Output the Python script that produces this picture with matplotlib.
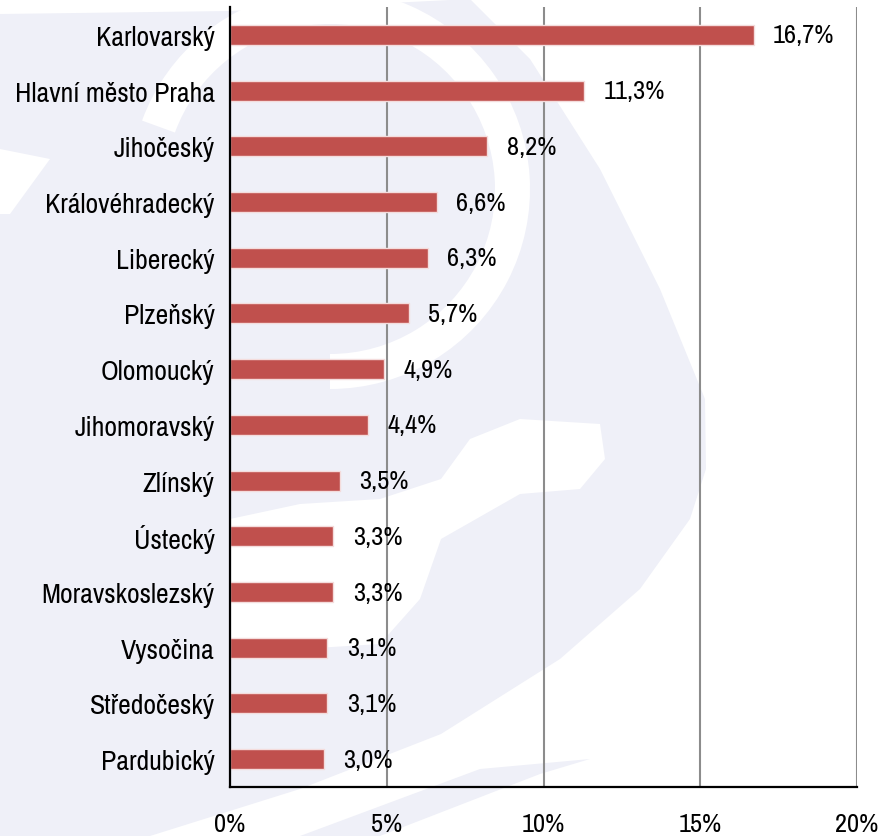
import matplotlib.pyplot as plt
from matplotlib import font_manager
from matplotlib.patches import Polygon, Wedge

regions = ["Karlovarský", "Hlavní město Praha", "Jihočeský", "Královéhradecký",
           "Liberecký", "Plzeňský", "Olomoucký", "Jihomoravský", "Zlínský",
           "Ústecký", "Moravskoslezský", "Vysočina", "Středočeský", "Pardubický"]
shares = [16.7, 11.3, 8.2, 6.6, 6.3, 5.7, 4.9, 4.4, 3.5, 3.3, 3.3, 3.1, 3.1, 3.0]
xticks = [0, 5, 10, 15, 20]

names = {f.name for f in font_manager.fontManager.ttflist}
font = "Archivo Narrow" if "Archivo Narrow" in names else "Liberation Sans"
plt.rcParams['font.family'] = [font, 'DejaVu Sans']
fs = 19

W, H = 882, 837
fig = plt.figure(figsize=(8.82, 8.37), dpi=100)

# faint watermark behind the chart, drawn in pixel coords (y down)
bg = fig.add_axes([0, 0, 1, 1], zorder=-1)
bg.set_xlim(0, W)
bg.set_ylim(H, 0)
bg.axis('off')
wm = '#EFF0F8'
bg.add_patch(Polygon([(0, 15), (230, 12), (470, 0), (530, 60), (600, 170),
                      (660, 290), (705, 400), (706, 470), (690, 520),
                      (640, 590), (560, 660), (441, 735), (300, 790),
                      (150, 837), (0, 837)], facecolor=wm, edgecolor='none'))
bg.add_patch(Polygon([(590, 760), (540, 775), (380, 837), (300, 837), (480, 770)],
                     facecolor=wm, edgecolor='none'))
bg.add_patch(Wedge((330, 190), 200, -160, 90, width=35, facecolor='white', edgecolor='none'))
bg.add_patch(Polygon([(230, 520), (300, 505), (380, 500), (441, 480), (470, 440),
                      (520, 420), (600, 425), (605, 460), (580, 490), (520, 495),
                      (441, 540), (420, 600), (380, 645), (300, 650), (230, 640)],
                     facecolor='white', edgecolor='none'))
bg.add_patch(Polygon([(0, 150), (50, 160), (10, 215), (0, 215)],
                     facecolor='white', edgecolor='none'))

ax = fig.add_axes([0.2608, 0.0585, 0.7109, 0.9319])

y = list(range(len(regions)))
ax.barh(y, shares, height=0.36, color='#C0504D', edgecolor='#F4DCDC', linewidth=1, zorder=3)
for yi, v in zip(y, shares):
    ax.annotate(f"{v:.1f}%".replace('.', ','), (v, yi), xytext=(14, 0),
                textcoords='offset points', va='center', ha='left', fontsize=fs)

ax.set_ylim(len(regions) - 0.5, -0.5)
ax.set_xlim(0, 20)
ax.set_yticks(y)
ax.set_yticklabels(regions, fontsize=20)
ax.set_xticks(xticks)
ax.set_xticklabels([f"{t}%" for t in xticks], fontsize=fs)
ax.tick_params(axis='both', length=0)
ax.tick_params(axis='y', pad=11)
ax.tick_params(axis='x', pad=18)
ax.grid(axis='x', color='#8c8c8c', linewidth=1.5, zorder=0)
for s in ['top', 'right']:
    ax.spines[s].set_visible(False)
ax.spines['left'].set_linewidth(1.6)
ax.spines['bottom'].set_linewidth(1.6)
ax.spines['left'].set_zorder(4)
ax.patch.set_alpha(0)

plt.savefig('out.png')
